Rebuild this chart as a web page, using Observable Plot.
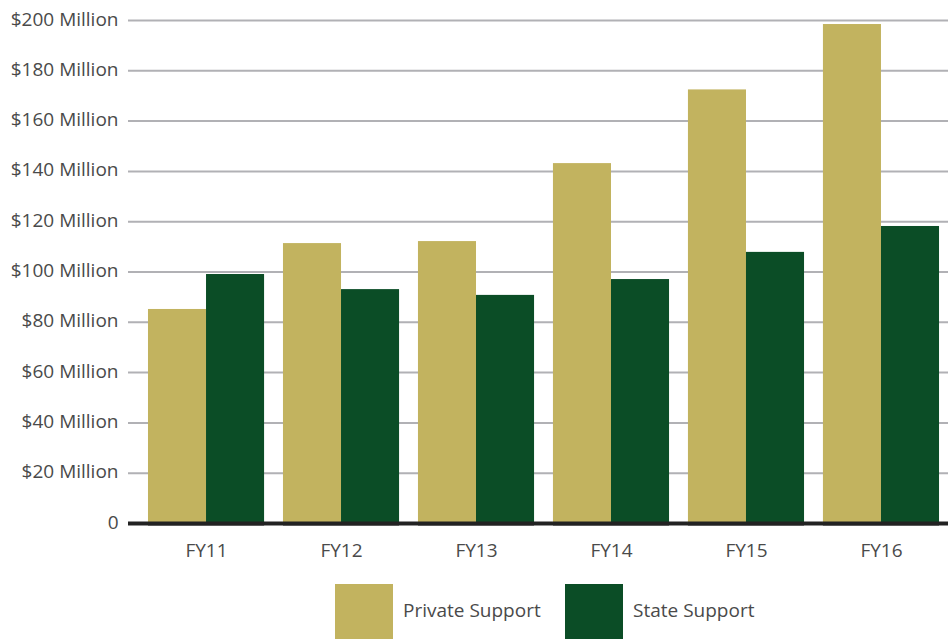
<!DOCTYPE html>
<html>
<head>
<meta charset="utf-8">
<script src="https://cdn.jsdelivr.net/npm/d3@7"></script>
<script src="https://cdn.jsdelivr.net/npm/@observablehq/plot@0.6"></script>
<style>
  html, body { margin: 0; padding: 0; background: #fff; overflow: hidden; }
  #chart { position: relative; width: 948px; height: 575px; }
  #chart svg { position: absolute; left: 0; top: 0; overflow: hidden; }
  #legend { position: relative; height: 64px; margin-top: 9px; font-family: "Open Sans", Lato, sans-serif; font-size: 19px; color: #4a4a4a; }
  .item { position: absolute; top: 0; display: flex; align-items: center; }
  .sw { width: 58px; height: 55px; margin-right: 10px; }
  .item span { position: relative; top: -2px; }
</style>
</head>
<body>
<div id="chart"></div>
<div id="legend"></div>
<script>
const years = ["FY11", "FY12", "FY13", "FY14", "FY15", "FY16"];
const privateSupport = [85.1, 111.3, 112.1, 143.1, 172.4, 198.4];
const stateSupport = [99.0, 93.0, 90.7, 97.0, 107.8, 118.1];
const seriesNames = ["Private Support", "State Support"];
const seriesColors = ["#C2B35F", "#0B4D26"];
const yTicks = [0, 20, 40, 60, 80, 100, 120, 140, 160, 180, 200];

const data = [];
years.forEach((yr, i) => {
  data.push({year: yr, series: seriesNames[0], value: privateSupport[i]});
  data.push({year: yr, series: seriesNames[1], value: stateSupport[i]});
});

const W = 948, H = 575, ML = 128, MT = 20, MB = 52;
const font = '"Open Sans", Lato, sans-serif';
const fmt = d => d === 0 ? "0" : `$${d} Million`;

// Back layer: grid, y axis labels, baseline
const back = Plot.plot({
  width: W, height: H,
  marginLeft: ML, marginRight: 0, marginTop: MT, marginBottom: MB,
  style: {fontFamily: font, fontSize: "19px", color: "#4a4a4a", background: "#fff"},
  y: {domain: [0, 200], ticks: yTicks, tickFormat: fmt, tickSize: 0, tickPadding: 10, label: null},
  marks: [
    Plot.ruleY(yTicks, {stroke: "#b1b1b5", strokeWidth: 2}),
    Plot.axisY({ticks: yTicks, tickFormat: fmt, tickSize: 0, tickPadding: 10, label: null, fill: "#4a4a4a", dy: -1}),
    Plot.ruleY([0], {stroke: "#222", strokeWidth: 4})
  ]
});

// Front layer: grouped bars
const front = Plot.plot({
  width: W, height: H,
  marginLeft: ML, marginRight: 0, marginTop: MT, marginBottom: MB,
  style: {fontFamily: font, fontSize: "19px", color: "#4a4a4a", background: "transparent"},
  fx: {domain: years, range: [128, 959], round: false, paddingInner: 0.14, paddingOuter: 0.148, label: null, tickSize: 0, tickPadding: 20, axis: "bottom"},
  x: {domain: seriesNames, padding: 0, round: false, axis: null},
  y: {domain: [0, 200], axis: null},
  color: {domain: seriesNames, range: seriesColors},
  marks: [
    Plot.barY(data, {fx: "year", x: "series", y: "value", fill: "series"}),
    Plot.ruleY([0], {stroke: "#222", strokeWidth: 4})
  ]
});

const chart = document.getElementById("chart");
chart.appendChild(back);
chart.appendChild(front);

const legend = document.getElementById("legend");
const legendLeft = [335, 565];
seriesNames.forEach((name, i) => {
  const item = document.createElement("div");
  item.className = "item";
  item.style.left = legendLeft[i] + "px";
  const sw = document.createElement("div");
  sw.className = "sw";
  sw.style.background = seriesColors[i];
  const t = document.createElement("span");
  t.textContent = name;
  item.appendChild(sw);
  item.appendChild(t);
  legend.appendChild(item);
});
</script>
</body>
</html>
